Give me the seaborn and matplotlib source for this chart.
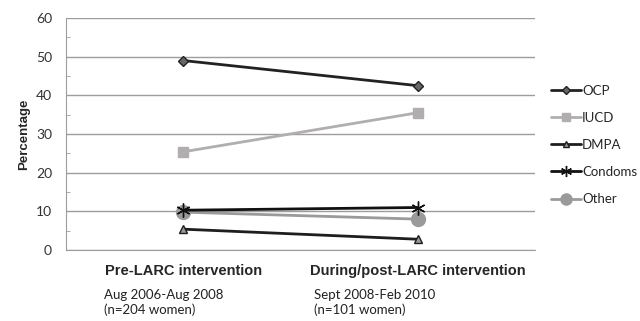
import numpy as np
import pandas as pd
import matplotlib
matplotlib.use("Agg")
import matplotlib.pyplot as plt
import seaborn as sns

periods = ["Pre-LARC intervention", "During/post-LARC intervention"]
period_notes = ["Aug 2006-Aug 2008\n(n=204 women)", "Sept 2008-Feb 2010\n(n=101 women)"]
methods = ["OCP", "IUCD", "DMPA", "Condoms", "Other"]
ocp = [49.0, 42.5]
iucd = [25.4, 35.5]
dmpa = [5.4, 2.8]
condoms = [10.3, 11.0]
other = [9.8, 8.0]

rows = []
for name, vals in zip(methods, [ocp, iucd, dmpa, condoms, other]):
    for i, v in enumerate(vals):
        rows.append({"method": name, "x": i, "pct": v})
df = pd.DataFrame(rows)

sns.set_style("white")
plt.rcParams["font.family"] = ["Lato", "DejaVu Sans"]

colors = {"OCP": "#222222", "IUCD": "#b0aeae", "DMPA": "#1e1e1e",
          "Condoms": "#111111", "Other": "#9a9a9a"}
markers = {"OCP": "D", "IUCD": "s", "DMPA": "^", "Condoms": (6, 2, 0), "Other": "o"}
mfc = {"OCP": "#666666", "IUCD": "#b0aeae", "DMPA": "#999999",
       "Condoms": "#111111", "Other": "#9a9a9a"}
msize = {"OCP": 5, "IUCD": 7, "DMPA": 6, "Condoms": 10, "Other": 10}

fig = plt.figure(figsize=(6.4, 3.21), dpi=100)
ax = fig.add_axes([0.103, 0.221, 0.733, 0.723])

for m in ["Other", "IUCD", "DMPA", "Condoms", "OCP"]:
    sub = df[df.method == m]
    sns.lineplot(data=sub, x="x", y="pct", ax=ax, color=colors[m], lw=2,
                 marker=markers[m], markersize=msize[m], markerfacecolor=mfc[m],
                 markeredgecolor=colors[m] if m != "Other" else mfc[m],
                 markeredgewidth=1, label=m, legend=False)

ax.set_xlim(-0.5, 1.5)
ax.set_ylim(0, 60)
ax.set_yticks(range(0, 61, 10))
ax.set_yticks(range(5, 60, 10), minor=True)
ax.yaxis.grid(True, color="#a09c9c", lw=1)
ax.set_axisbelow(True)
ax.set_xticks([0, 1])
ax.set_xticklabels(periods, fontsize=10.5, fontweight="bold", family="Liberation Sans")
ax.tick_params(axis="x", length=0, pad=10)
ax.tick_params(axis="y", which="major", length=0, labelsize=10, pad=10, labelcolor="#333333")
ax.tick_params(axis="y", which="minor", length=3, direction="in", color="#a09c9c", left=True)
ax.set_xlabel("")
ax.set_ylabel("Percentage", fontsize=9.5, fontweight="bold", family="Liberation Sans", labelpad=4)
for s in ["top", "right"]:
    ax.spines[s].set_visible(False)
ax.spines["left"].set_color("#a09c9c")
ax.spines["bottom"].set_color("#a09c9c")

for i, note in enumerate(period_notes):
    ax.annotate(note, xy=(i, 0), xycoords=("data", "axes fraction"),
                xytext=(-57 if i == 0 else -75, -28), textcoords="offset points",
                ha="left", va="top", fontsize=9.5, linespacing=1.2, color="#222222")

handles = []
for m in methods:
    h, = ax.plot([], [], color=colors[m], lw=2, marker=markers[m],
                 markersize=msize[m] * 0.8, markerfacecolor=mfc[m],
                 markeredgecolor=colors[m] if m != "Other" else mfc[m])
    handles.append(h)
leg = ax.legend(handles, methods, loc="center left", bbox_to_anchor=(1.033, 0.453),
                frameon=False, fontsize=9.5, labelspacing=1.15, handlelength=2.3,
                handletextpad=0.1, borderaxespad=0, borderpad=0)

fig.savefig("out.png", dpi=100)
